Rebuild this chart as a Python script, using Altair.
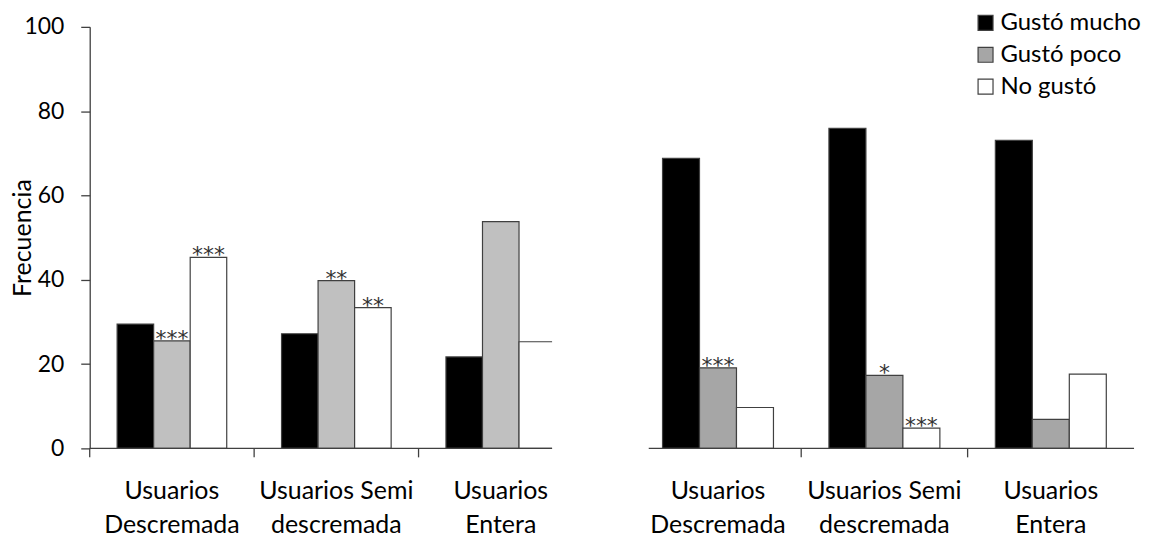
import altair as alt
import pandas as pd

categories = ["Usuarios|Descremada", "Usuarios Semi|descremada", "Usuarios|Entera"]
series = ["Gustó mucho", "Gustó poco", "No gustó"]

left_mucho = [29.5, 27.2, 21.7]
left_poco = [25.5, 39.8, 53.8]
left_no = [45.3, 33.4, 25.3]
left_sig_mucho = ["", "", ""]
left_sig_poco = ["***", "**", ""]
left_sig_no = ["***", "**", ""]

right_mucho = [68.8, 75.9, 73.1]
right_poco = [19.1, 17.3, 6.9]
right_no = [9.7, 4.8, 17.6]
right_sig_mucho = ["", "", ""]
right_sig_poco = ["***", "*", ""]
right_sig_no = ["", "***", ""]

y_ticks = [0, 20, 40, 60, 80, 100]

left_colors = ["#000000", "#C0C0C0", "#FFFFFF"]
right_colors = ["#000000", "#A6A6A6", "#FFFFFF"]

LINE = "#404040"
H = 423


def make_df(mucho, poco, no, s_mucho, s_poco, s_no):
    rows = []
    for i, c in enumerate(categories):
        for s, vals, sig in zip(series, [mucho, poco, no], [s_mucho, s_poco, s_no]):
            rows.append({"cat": c, "series": s, "value": vals[i], "sig": sig[i]})
    return pd.DataFrame(rows)


def panel(df, tick_cats, width, x_range, line_from, colors, show_y, legend):
    sc = dict(domain=categories, paddingInner=0, paddingOuter=0)
    if x_range is not None:
        sc["range"] = x_range
    xscale = alt.Scale(**sc)
    xaxis = alt.Axis(
        title=None, labelExpr="split(datum.label, '|')", labelAngle=0,
        ticks=False, tickSize=0, domain=False, labelPadding=30,
        labelFontSize=25, labelLineHeight=34, labelColor="#000000",
        labelOverlap=False, labelBound=False, labelLimit=0,
    )
    if show_y:
        yaxis = alt.Axis(
            title="Frecuencia", values=y_ticks, grid=False, tickSize=9,
            tickColor=LINE, domainColor=LINE, tickWidth=1.3, domainWidth=1.3,
            labelPadding=17, labelFontSize=23, labelColor="#000000",
            titleFontSize=25, titleFontWeight="normal", titleColor="#000000",
            titlePadding=-12,
        )
    else:
        yaxis = None
    yscale = alt.Scale(domain=[0, 100], nice=False)
    x = alt.X("cat:N", sort=categories, scale=xscale, axis=xaxis)
    y = alt.Y("value:Q", scale=yscale, axis=yaxis)
    xoff = alt.XOffset("series:N", sort=series,
                       scale=alt.Scale(domain=series, paddingInner=0, paddingOuter=0.75))
    base = alt.Chart(df)
    bars = base.mark_bar(stroke=LINE, strokeWidth=1.2, clip=True).encode(
        x=x, xOffset=xoff, y=y,
        color=alt.Color("series:N", sort=series,
                        scale=alt.Scale(domain=series, range=colors), legend=legend),
    )
    sig = base.mark_text(font="DejaVu Sans", fontSize=22, baseline="alphabetic", dy=5,
                         color="#333333").encode(
        x=x, xOffset=xoff, y=y, text="sig:N"
    )
    ticks = alt.Chart(pd.DataFrame({"cat": tick_cats})).mark_rule(
        color=LINE, strokeWidth=1.3
    ).encode(
        x=alt.X("cat:N", sort=categories, scale=xscale, axis=xaxis, bandPosition=0),
        y=alt.value(H), y2=alt.value(H + 9),
    )
    baseline = alt.Chart(pd.DataFrame({"k": [0]})).mark_rule(
        color=LINE, strokeWidth=1.3
    ).encode(x=alt.value(line_from), x2=alt.value(width), y=alt.value(H))
    return alt.layer(bars, sig, ticks, baseline).properties(width=width, height=H)


left_df = make_df(left_mucho, left_poco, left_no, left_sig_mucho, left_sig_poco, left_sig_no)
right_df = make_df(right_mucho, right_poco, right_no, right_sig_mucho, right_sig_poco, right_sig_no)

left = panel(left_df, categories, 464, [0, 495], 0, left_colors, True, None)
right = panel(
    right_df, categories[1:], 501, None, 14, right_colors, False,
    alt.Legend(title=None, orient="none", legendX=340, legendY=-16,
               symbolType="square", symbolSize=225, symbolStrokeColor=LINE,
               symbolStrokeWidth=1.2, labelFontSize=24, labelColor="#000000",
               labelOffset=3, rowPadding=8, padding=0),
)

chart = alt.hconcat(left, right, spacing=83, bounds="flush").resolve_scale(
    x="independent", y="independent", color="independent", xOffset="independent"
).configure(font="Lato").configure_view(stroke=None).properties(
    padding={"left": 2, "top": 2, "right": 0, "bottom": 0}
)

chart.save("out.html", embed_options={"renderer": "svg", "actions": False})
